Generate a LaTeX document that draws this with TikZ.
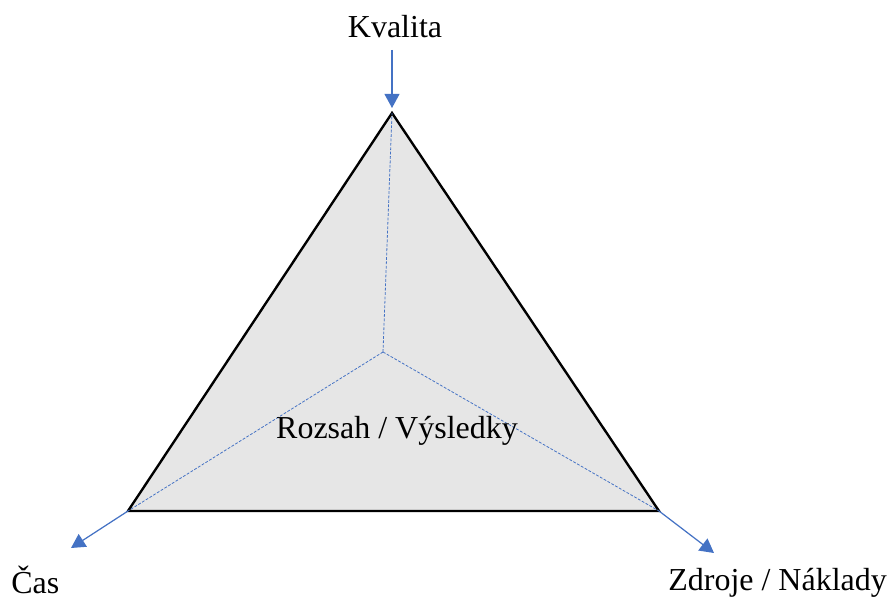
\documentclass[tikz,border=0pt]{standalone}
\usepackage{fontspec}
\setmainfont{Liberation Serif}
\usepackage{tikz}
\usetikzlibrary{arrows.meta,positioning,calc}
\definecolor{ink}{HTML}{000000}
\definecolor{axisblue}{HTML}{4472C4}
\definecolor{areagray}{HTML}{E6E6E6}

\begin{document}
\begin{tikzpicture}[x=0.02cm,y=-0.02cm,
    lbl/.style={font=\fontsize{18.2}{21}\selectfont, text=ink, inner sep=0pt},
    axis/.style={draw=axisblue, line width=0.7pt, -{Triangle[length=8pt,width=8.5pt]}},
    guide/.style={draw=axisblue, line width=0.45pt, dash pattern=on 1.6pt off 0.9pt},
    side/.style={draw=ink, line width=1.35pt, line join=miter, fill=areagray}]
  \useasboundingbox (0,0) rectangle (888,598);
  % corners of the triangle and its centre
  \coordinate (top) at (392,113);
  \coordinate (lft) at (128,511);
  \coordinate (rgt) at (659,511);
  \coordinate (mid) at (383,352);
  \draw[side] (top) -- (lft) -- (rgt) -- cycle;
  \foreach \v in {top,lft,rgt}
    \draw[guide] (mid) -- (\v);
  % outer arrows
  \coordinate (kv-start) at (392,50);
  \coordinate (cas-tip) at (71,548);
  \coordinate (zdr-tip) at (714,553);
  \draw[axis] (kv-start) -- ($(top)+(0,-5)$);
  \draw[axis] (lft) -- (cas-tip);
  \draw[axis] (rgt) -- (zdr-tip);
  % labels
  \node[lbl] (kvalita) at (395,27) {Kvalita};
  \node[lbl, anchor=west] (cas) at (11,580) {Čas};
  \node[lbl, anchor=west] (zdroje) at (668,583) {Zdroje / Náklady};
  \node[lbl] (rozsah) at (397,431) {Rozsah / Výsledky};
\end{tikzpicture}
\end{document}
